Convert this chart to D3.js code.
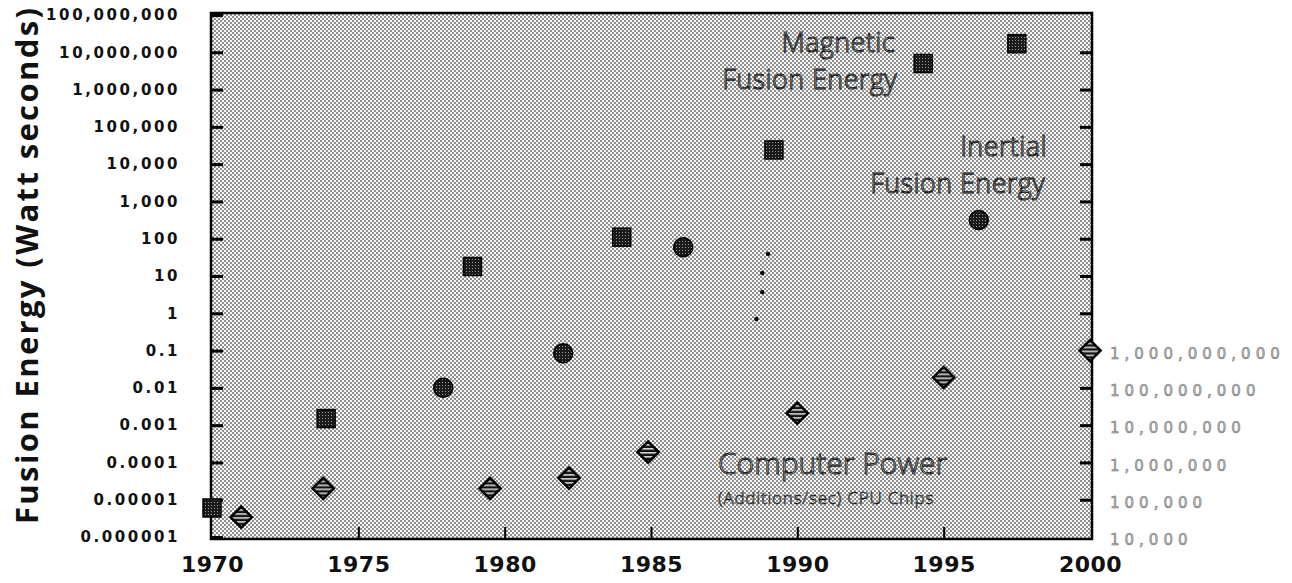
<!DOCTYPE html>
<html>
<head>
<meta charset="utf-8">
<script src="https://cdn.jsdelivr.net/npm/d3@7"></script>
<style>
  body { margin: 0; background: #fff; }
  svg { display: block; }
</style>
</head>
<body>
<svg id="chart" width="1292" height="583"></svg>
<script>
// data
var magYears = [1970, 1973.9, 1978.9, 1984.0, 1989.2, 1994.3, 1997.5];
var magEnergy = [6e-6, 1.5e-3, 18, 110, 2.4e4, 5e6, 1.7e7];
var inertialYears = [1977.9, 1982.0, 1986.1, 1996.2];
var inertialEnergy = [0.01, 0.085, 59, 320];
var trailYears = [1989.0, 1988.8, 1988.8, 1988.6];
var trailEnergy = [39, 12, 3.7, 0.7];
var cpuYears = [1971.0, 1973.8, 1979.5, 1982.2, 1984.9, 1990.0, 1995.0, 2000.0];
var cpuAdds = [3.4e4, 2e5, 2e5, 3.8e5, 1.9e6, 2.1e7, 1.9e8, 1e9];

var yearTicks = [1970, 1975, 1980, 1985, 1990, 1995, 2000];
var energyTicks = [1e-6, 1e-5, 1e-4, 1e-3, 1e-2, 1e-1, 1, 10, 100, 1e3, 1e4, 1e5, 1e6, 1e7, 1e8];
var energyLabels = ["0.000001", "0.00001", "0.0001", "0.001", "0.01", "0.1", "1", "10", "100",
  "1,000", "10,000", "100,000", "1,000,000", "10,000,000", "100,000,000"];
var cpuTicks = [1e4, 1e5, 1e6, 1e7, 1e8, 1e9];
var cpuLabels = ["10,000", "100,000", "1,000,000", "10,000,000", "100,000,000", "1,000,000,000"];

var svg = d3.select("#chart");
var plotLeft = 211, plotRight = 1092, plotTop = 13, plotBottom = 539;

var x = d3.scaleLinear().domain([1970, 2000]).range([212, 1090]);
var y = d3.scaleLog().domain([1e-6, 1e8]).range([537, 15]);
var yCpu = d3.scaleLog().domain([1e4, 1e18]).range([537, 15]);

// patterns
var defs = svg.append("defs");
var ht = defs.append("pattern").attr("id", "halftone").attr("patternUnits", "userSpaceOnUse")
  .attr("width", 4).attr("height", 4);
ht.append("rect").attr("width", 4).attr("height", 4).attr("fill", "#f6f6f6");
ht.append("rect").attr("x", 0).attr("y", 0).attr("width", 2).attr("height", 2).attr("fill", "#8e8e8e");
ht.append("rect").attr("x", 2).attr("y", 2).attr("width", 2).attr("height", 2).attr("fill", "#8e8e8e");

var md = defs.append("pattern").attr("id", "markDots").attr("patternUnits", "userSpaceOnUse")
  .attr("width", 3).attr("height", 3);
md.append("rect").attr("width", 3).attr("height", 3).attr("fill", "#1a1a1a");
md.append("rect").attr("x", 1).attr("y", 1).attr("width", 1).attr("height", 1).attr("fill", "#9a9a9a");

var st = defs.append("pattern").attr("id", "stripes").attr("patternUnits", "userSpaceOnUse")
  .attr("width", 4).attr("height", 4).attr("patternTransform", "rotate(45)");
st.append("rect").attr("width", 4).attr("height", 4).attr("fill", "#111");
st.append("rect").attr("x", 0).attr("width", 1.6).attr("height", 4).attr("fill", "#d8d8d8");

// plot background
svg.append("rect").attr("x", plotLeft).attr("y", plotTop)
  .attr("width", plotRight - plotLeft).attr("height", plotBottom - plotTop)
  .attr("fill", "url(#halftone)");

// annotations, one text per label with two lines
function label(lines, xx, yy, size, anchor, lineGap) {
  var t = svg.append("text").attr("text-anchor", anchor)
    .attr("font-family", "Open Sans").attr("font-weight", 300).attr("font-size", size)
    .attr("letter-spacing", 0.4)
    .attr("fill", "#f4f4f4").attr("stroke", "#111").attr("stroke-width", 0.9);
  lines.forEach(function(l, i) {
    t.append("tspan").attr("x", xx[i]).attr("y", yy + i * lineGap).text(l);
  });
}
label(["Magnetic", "Fusion Energy"], [895, 897], 52, 27, "end", 37);
label(["Inertial", "Fusion Energy"], [1047, 1045], 156, 27, "end", 37);
var cp = svg.append("text").attr("font-family", "Open Sans").attr("font-weight", 300)
  .attr("fill", "#f4f4f4").attr("stroke", "#111");
cp.append("tspan").attr("x", 718).attr("y", 474).attr("font-size", 30).attr("stroke-width", 0.9)
  .text("Computer Power");
cp.append("tspan").attr("x", 718).attr("y", 504).attr("font-size", 17).attr("letter-spacing", 0.8)
  .attr("stroke-width", 0.6).text("(Additions/sec) CPU Chips");

// left ticks (inside) with labels
svg.append("g").attr("transform", "translate(" + plotLeft + ",0)")
  .call(d3.axisLeft(y).tickValues(energyTicks).tickSizeInner(-12).tickSizeOuter(0).tickPadding(31)
    .tickFormat(function(d, i) { return energyLabels[i]; }))
  .call(function(g) {
    g.select(".domain").remove();
    g.selectAll(".tick line").attr("stroke", "#000").attr("stroke-width", 3);
    g.selectAll(".tick text").attr("font-family", "DejaVu Sans").attr("font-weight", "bold")
      .attr("font-size", 15).attr("letter-spacing", 2.6).attr("fill", "#111");
  });

// right ticks (inside, no labels)
svg.append("g").attr("transform", "translate(" + plotRight + ",0)")
  .call(d3.axisRight(y).tickValues(energyTicks.slice(1, -1)).tickSizeInner(-12).tickSizeOuter(0).tickFormat(""))
  .call(function(g) {
    g.select(".domain").remove();
    g.selectAll(".tick line").attr("stroke", "#000").attr("stroke-width", 3);
  });

// right labels, computer power scale
svg.append("g").attr("transform", "translate(" + plotRight + ",3)")
  .call(d3.axisRight(yCpu).tickValues(cpuTicks).tickSize(0).tickPadding(18)
    .tickFormat(function(d, i) { return cpuLabels[i]; }))
  .call(function(g) {
    g.select(".domain").remove();
    g.selectAll(".tick text").attr("font-family", "DejaVu Sans").attr("font-size", 15)
      .attr("letter-spacing", 5).attr("fill", "#bdbdbd").attr("stroke", "#666").attr("stroke-width", 0.5);
  });

// bottom ticks (inside) and year labels
svg.append("g").attr("transform", "translate(0," + plotBottom + ")")
  .call(d3.axisBottom(x).tickValues(yearTicks.slice(1, -1)).tickSizeInner(-12).tickSizeOuter(0).tickFormat(""))
  .call(function(g) {
    g.select(".domain").remove();
    g.selectAll(".tick line").attr("stroke", "#000").attr("stroke-width", 2);
  });
svg.append("g").attr("transform", "translate(0," + plotBottom + ")")
  .call(d3.axisBottom(x).tickValues(yearTicks).tickSize(0).tickPadding(17).tickFormat(d3.format("d")))
  .call(function(g) {
    g.select(".domain").remove();
    g.selectAll(".tick text").attr("font-family", "DejaVu Sans").attr("font-weight", "bold")
      .attr("font-size", 22).attr("letter-spacing", 0.5).attr("fill", "#111");
  });

// frame
svg.append("rect").attr("x", plotLeft).attr("y", plotTop)
  .attr("width", plotRight - plotLeft).attr("height", plotBottom - plotTop)
  .attr("fill", "none").attr("stroke", "#000").attr("stroke-width", 2.5);

// y title
svg.append("text").attr("transform", "translate(38,266) rotate(-90)")
  .attr("text-anchor", "middle").attr("font-family", "Open Sans").attr("font-weight", 700)
  .attr("font-size", 31).attr("textLength", 516).attr("lengthAdjust", "spacing")
  .attr("fill", "#111").text("Fusion Energy (Watt seconds)");

// small dots of the inertial trail
svg.selectAll(".trail").data(d3.zip(trailYears, trailEnergy)).enter().append("circle")
  .attr("cx", function(d) { return x(d[0]); }).attr("cy", function(d) { return y(d[1]); })
  .attr("r", 2.2).attr("fill", "#000");

// magnetic fusion squares
svg.selectAll(".mag").data(d3.zip(magYears, magEnergy)).enter().append("rect")
  .attr("x", function(d) { return x(d[0]) - 9; }).attr("y", function(d) { return y(d[1]) - 9; })
  .attr("width", 18).attr("height", 18)
  .attr("fill", "url(#markDots)").attr("stroke", "#000").attr("stroke-width", 1.5);

// inertial fusion circles
svg.selectAll(".ine").data(d3.zip(inertialYears, inertialEnergy)).enter().append("circle")
  .attr("cx", function(d) { return x(d[0]); }).attr("cy", function(d) { return y(d[1]); })
  .attr("r", 9.5).attr("fill", "url(#markDots)").attr("stroke", "#000").attr("stroke-width", 1.5);

// computer power diamonds
svg.selectAll(".cpu").data(d3.zip(cpuYears, cpuAdds)).enter().append("rect")
  .attr("x", -7.5).attr("y", -7.5).attr("width", 15).attr("height", 15)
  .attr("transform", function(d) { return "translate(" + x(d[0]) + "," + yCpu(d[1]) + ") rotate(45)"; })
  .attr("fill", "url(#stripes)").attr("stroke", "#000").attr("stroke-width", 2.5);
</script>
</body>
</html>
